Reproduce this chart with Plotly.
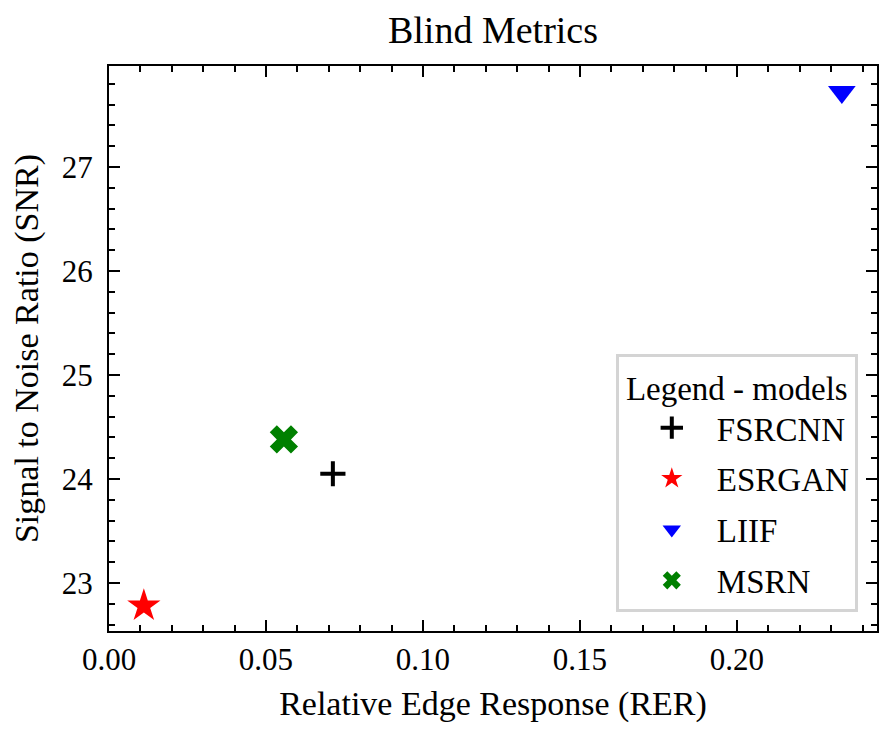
import plotly.graph_objects as go

# data
models = ["FSRCNN", "ESRGAN", "LIIF", "MSRN"]
rer = [0.0713, 0.0111, 0.2334, 0.0557]
snr = [24.05, 22.78, 27.72, 24.38]
colors = ["black", "red", "blue", "green"]
symbols = ["cross-thin", "star", "triangle-down", "x"]
sizes = [18, 25, 24, 25]

FONT = "Liberation Serif"

fig = go.Figure()
for i, name in enumerate(models):
    lw = 4 if symbols[i] == "cross-thin" else 0
    fig.add_trace(go.Scatter(
        x=[rer[i]], y=[snr[i]], mode="markers", name=name, legendgroup=name,
        marker=dict(symbol=symbols[i], color=colors[i], size=sizes[i],
                    line=dict(color=colors[i], width=lw)),
    ))

axis_common = dict(
    showline=True, linecolor="black", linewidth=2.3, mirror="allticks",
    ticks="inside", ticklen=11, tickwidth=2, tickcolor="black",
    showgrid=False, zeroline=False, automargin=False,
    tickfont=dict(family=FONT, size=31, color="black"),
)
fig.update_xaxes(range=[0, 0.2446], dtick=0.05, tickformat=".2f",
                 minor=dict(ticks="inside", ticklen=6, tickwidth=1.5, dtick=0.01, tickcolor="black"),
                 title=dict(text="Relative Edge Response (RER)",
                            font=dict(family=FONT, size=34, color="black"), standoff=15),
                 **axis_common)
fig.update_yaxes(range=[22.538, 27.971], dtick=1, ticklabelstandoff=8,
                 minor=dict(ticks="inside", ticklen=6, tickwidth=1.5, dtick=0.2, tickcolor="black"),
                 title=dict(text="Signal to Noise Ratio (SNR)",
                            font=dict(family=FONT, size=34, color="black"), standoff=13),
                 **axis_common)

# page body has an 8px margin, so the figure is sized to sit inside the window
fig.update_layout(
    width=875, height=722,
    margin=dict(l=101, r=6, t=58, b=99),
    paper_bgcolor="white", plot_bgcolor="white",
    title=dict(text="Blind Metrics", xref="paper", x=0.5, xanchor="center",
               y=0.9695, yanchor="middle",
               font=dict(family=FONT, size=38, color="black")),
    legend=dict(
        x=0.975, y=0.034, xanchor="right", yanchor="bottom",
        bgcolor="white", bordercolor="#d4d4d4", borderwidth=3,
        font=dict(family=FONT, size=33, color="black"),
        title=dict(text="Legend - models", side="top center",
                   font=dict(family=FONT, size=33, color="black")),
        tracegroupgap=5, itemwidth=80, indentation=8,
    ),
)

fig.write_html("out.html")
